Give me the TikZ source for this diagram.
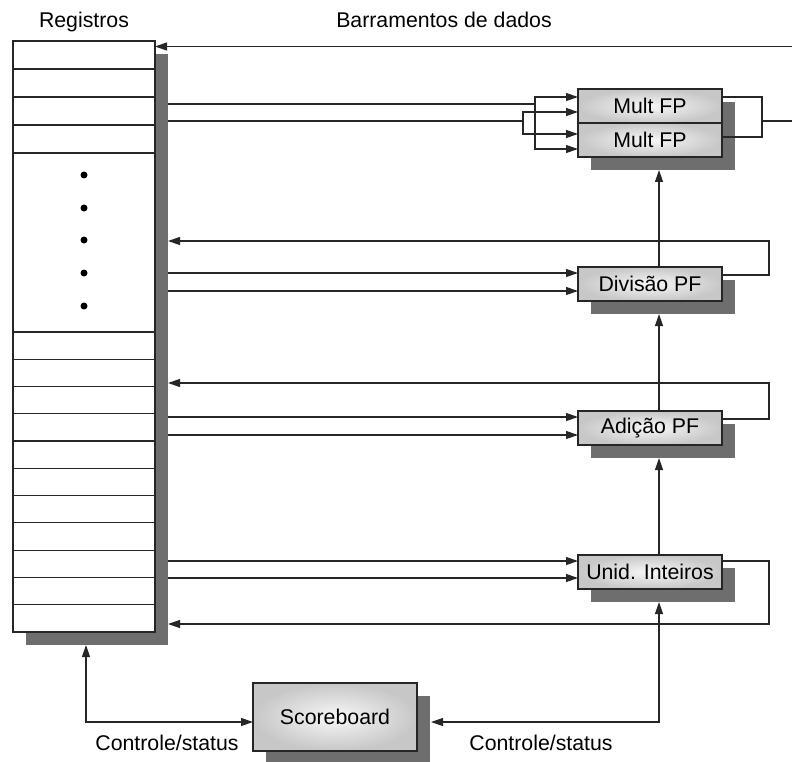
\documentclass[tikz,border=0pt]{standalone}
\usepackage{fontspec}
\setmainfont{Liberation Sans}
\usetikzlibrary{arrows.meta,shadows}

\begin{document}
\begin{tikzpicture}[x=1pt,y=-1pt,line width=1.2pt,draw=black!85,
  font=\fontsize{21.3}{25}\selectfont,
  arr/.style={-{Triangle[length=12pt,width=8pt]}},
  dbl/.style={{Triangle[length=12pt,width=8pt]}-{Triangle[length=12pt,width=8pt]}},
  shadowed/.style={drop shadow={shadow xshift=13pt,shadow yshift=-13pt,fill=black!57,opacity=1}},
  unit/.style={rectangle,draw,shadowed,inner sep=0pt,outer sep=0pt,
    minimum width=144pt,minimum height=34pt,inner color=black!3,outer color=black!22}]
\useasboundingbox (0,0) rectangle (792,762);

% register file
\node[rectangle,draw,fill=white,shadowed,inner sep=0pt,outer sep=0pt,
  minimum width=142pt,minimum height=591pt] (regs) at (84,336.5) {};
\foreach \y in {69,97,125,153} \draw (13,\y) -- (155,\y);
\foreach \k in {0,...,10} \draw (13,332+27.27*\k) -- (155,332+27.27*\k);
\foreach \y in {175,208,240,273,306} \fill (84,\y) circle (3.5pt);
\coordinate (rshadow) at ([xshift=13pt]regs.east);

\node[anchor=base] (lblreg) at (84,27.5) {Registros};
\node[anchor=base] (lblbus) at (444,28) {Barramentos de dados};

% functional units
\node[unit] (multA) at (650,106) {Mult FP};
\node[unit] (multB) at (650,140) {Mult FP};
\node[unit] (div) at (650,284) {Divisão PF};
\node[unit] (add) at (650,428) {Adição PF};
\node[unit] (intu) at (650,572) {Unid. Inteiros};
\node[unit,minimum width=164pt,minimum height=68pt] (score) at (335,717) {Scoreboard};

\node[anchor=base] (lblctl1) at (167,750.5) {Controle/status};
\node[anchor=base] (lblctl2) at (541,750.5) {Controle/status};

% buses
\coordinate (busin) at (792,46.5);
\coordinate (busout) at (792,121);
\draw[arr] (busin) -- (regs.east |- busin);

\coordinate (ma) at (535,104);
\coordinate (mb) at (523,121);
\draw (rshadow |- ma) -- (ma);
\draw[arr] (ma) |- ([yshift=9pt]multA.west);
\draw[arr] (ma) |- ([yshift=-9pt]multB.west);
\draw (rshadow |- mb) -- (mb);
\draw[arr] (mb) |- ([yshift=-6pt]multA.west);
\draw[arr] (mb) |- ([yshift=6pt]multB.west);
\coordinate (mjoin) at (762,121);
\draw ([yshift=9pt]multA.east) -| (mjoin) |- ([yshift=3pt]multB.east);
\draw (mjoin) -- (busout);

\foreach \u/\f in {div/241,add/383}{
  \coordinate (\u in1) at ([yshift=11pt]\u.west);
  \coordinate (\u in2) at ([yshift=-7pt]\u.west);
  \draw[arr] (rshadow |- \u in1) -- (\u in1);
  \draw[arr] (rshadow |- \u in2) -- (\u in2);
  \coordinate (fb\u) at (769,\f);
  \draw[arr] ([yshift=9pt]\u.east) -| (fb\u) -- (rshadow |- fb\u);
}
\coordinate (intu in1) at ([yshift=11pt]intu.west);
\coordinate (intu in2) at ([yshift=-6pt]intu.west);
\draw[arr] (rshadow |- intu in1) -- (intu in1);
\draw[arr] (rshadow |- intu in2) -- (intu in2);
\coordinate (fbintu) at (769,624);
\draw[arr] ([yshift=11pt]intu.east) -| (fbintu) -- (rshadow |- fbintu);

% results passed upward
\draw[arr] ([xshift=9pt]div.north) -- ([xshift=9pt,yshift=-13pt]multB.south);
\draw[arr] ([xshift=9pt]add.north) -- ([xshift=9pt,yshift=-13pt]div.south);
\draw[arr] ([xshift=9pt]intu.north) -- ([xshift=9pt,yshift=-13pt]add.south);

% scoreboard control
\draw[dbl] ([yshift=-5pt]score.west) -| ([xshift=2pt,yshift=-13pt]regs.south);
\draw[dbl] ([xshift=14pt,yshift=-5pt]score.east) -| ([xshift=9pt,yshift=-13pt]intu.south);
\end{tikzpicture}
\end{document}
